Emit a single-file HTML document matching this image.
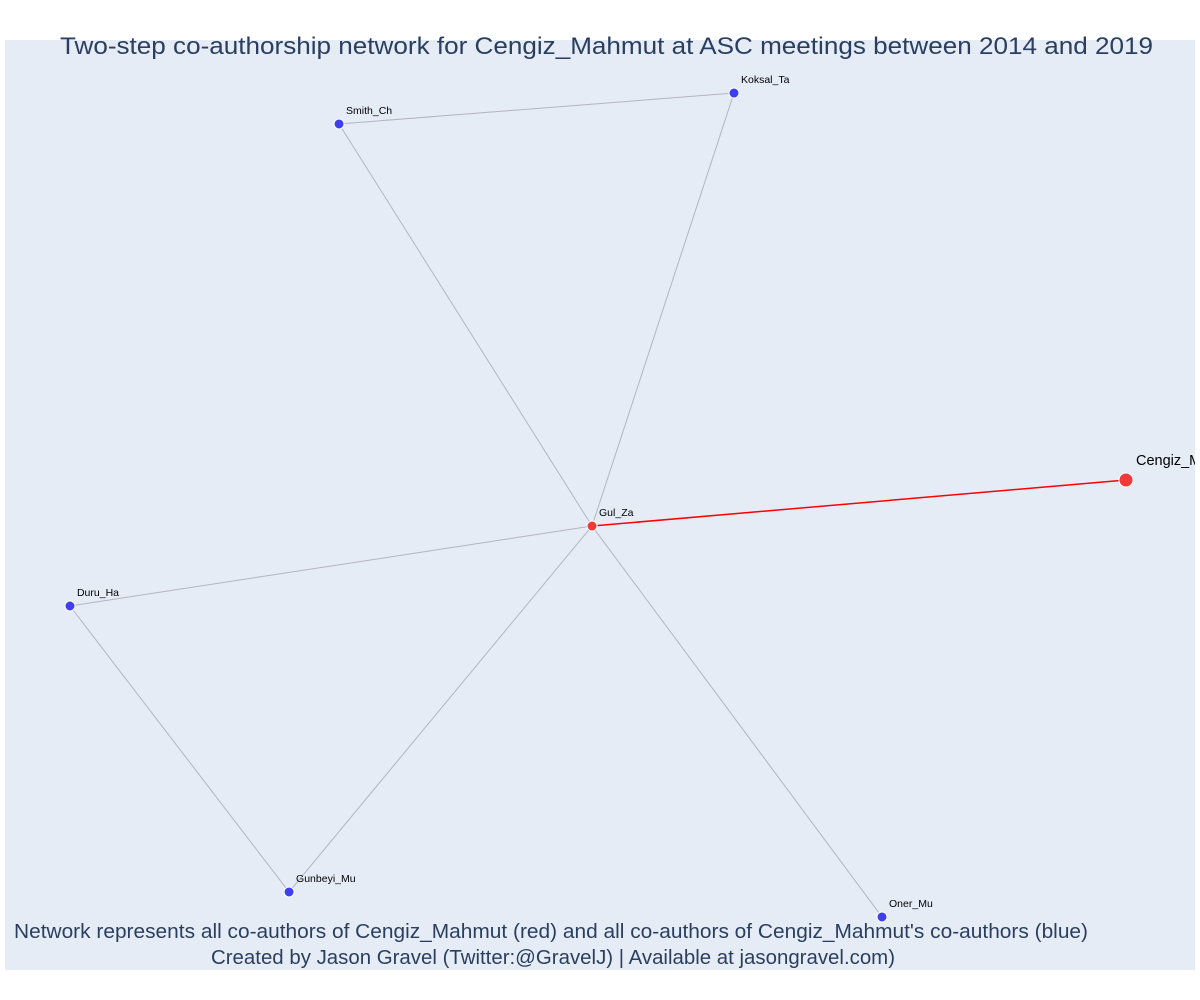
<!DOCTYPE html>
<html><head><meta charset="utf-8"><style>
body{margin:0;background:#fff;font-family:"Liberation Sans",sans-serif}
svg{display:block}
</style></head><body>
<svg id="chart" width="1200" height="1000">
<rect x="5" y="40" width="1190" height="930" fill="#e5ecf6"/>
<g id="edges"></g>
<g id="nodes"></g>
<text x="60" y="54" font-size="24" fill="#2a3f5f" textLength="1093" lengthAdjust="spacingAndGlyphs">Two-step co-authorship network for Cengiz_Mahmut at ASC meetings between 2014 and 2019</text>
<text x="14" y="938" font-size="20" fill="#2a3f5f" textLength="1074" lengthAdjust="spacingAndGlyphs">Network represents all co-authors of Cengiz_Mahmut (red) and all co-authors of Cengiz_Mahmut's co-authors (blue)</text>
<text x="211" y="964" font-size="20" fill="#2a3f5f" textLength="684" lengthAdjust="spacingAndGlyphs">Created by Jason Gravel (Twitter:@GravelJ) | Available at jasongravel.com)</text>
</svg>
<script>
const names = ["Cengiz_Mahmut","Gul_Za","Koksal_Ta","Smith_Ch","Duru_Ha","Gunbeyi_Mu","Oner_Mu"];
const xs = [0.9420, 0.4933, 0.6126, 0.2807, 0.0546, 0.2387, 0.7370];
const ys = [0.5269, 0.4774, 0.9430, 0.9097, 0.3914, 0.0839, 0.0570];
const groups = ["ego","alter","second","second","second","second","second"];
const edgeFrom = [3,3,2,4,4,5,6,1];
const edgeTo   = [2,1,1,1,5,1,1,0];

const X = v => 5 + v*1190;
const Y = v => 970 - v*930;
const NS="http://www.w3.org/2000/svg";
const eg=document.getElementById('edges'), ng=document.getElementById('nodes');
const svg=document.getElementById('chart');
const clip=document.createElementNS(NS,'clipPath');clip.setAttribute('id','pc');
const cr=document.createElementNS(NS,'rect');cr.setAttribute('x',5);cr.setAttribute('y',40);cr.setAttribute('width',1190);cr.setAttribute('height',930);
clip.appendChild(cr);svg.insertBefore(clip,svg.firstChild);
eg.setAttribute('clip-path','url(#pc)');ng.setAttribute('clip-path','url(#pc)');
edgeFrom.forEach((a,i)=>{
  const b=edgeTo[i];
  const red = groups[a]==="ego"||groups[b]==="ego";
  const l=document.createElementNS(NS,'line');
  l.setAttribute('x1',X(xs[a]));l.setAttribute('y1',Y(ys[a]));
  l.setAttribute('x2',X(xs[b]));l.setAttribute('y2',Y(ys[b]));
  l.setAttribute('stroke',red?'#ff0000':'#b4b4c4');
  l.setAttribute('stroke-width',red?1.5:1);
  
  
  eg.appendChild(l);
});
names.forEach((n,i)=>{
  const c=document.createElementNS(NS,'circle');
  const ego=groups[i]==="ego";
  c.setAttribute('cx',X(xs[i]));c.setAttribute('cy',Y(ys[i]));
  c.setAttribute('r',ego?7:5);
  c.setAttribute('fill',groups[i]==="second"?'#3f3ff0':'#f03a3a');
  c.setAttribute('stroke','#fff');c.setAttribute('stroke-width',1);
  
  
  ng.appendChild(c);
  const t=document.createElementNS(NS,'text');
  t.setAttribute('x',X(xs[i])+(ego?10:7));t.setAttribute('y',Y(ys[i])-(ego?15:10));
  t.setAttribute('font-size',ego?14.5:10.5);t.setAttribute('fill','#000');
  t.textContent=n;
  
  
  ng.appendChild(t);
});
</script>
</body></html>
